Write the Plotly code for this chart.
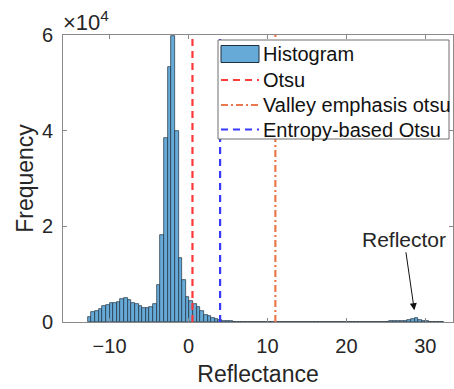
import plotly.graph_objects as go

# ---- data ----
bin_start = -12.77
bin_width = 0.46
counts = [
    980, 2030, 2300, 2800, 3280, 3490, 3900, 3900, 4190, 4890,
    5030, 4600, 3980, 3840, 3280, 3000, 2860, 3070, 3770, 7750,
    18150, 38500, 53300, 59700, 40000, 13470, 8730, 5240, 4330, 3840,
    3140, 2230, 1400, 1190, 910, 560, 350, 200, 150, 120,
    100, 90, 85, 80, 75, 70, 70, 65, 60, 60,
    60, 55, 55, 55, 50, 50, 50, 50, 50, 50,
    50, 50, 50, 50, 50, 50, 50, 50, 50, 50,
    50, 50, 50, 50, 50, 50, 50, 50, 60, 60,
    70, 80, 100, 150, 200, 250, 200, 300, 400, 700,
    750, 500, 250, 120, 70, 50, 40, 30,
]
centers = [bin_start + bin_width * (i + 0.5) for i in range(len(counts))]

otsu = 0.5
valley_otsu = 11.0
entropy_otsu = 4.0

series_names = ["Histogram", "Otsu", "Valley emphasis otsu", "Entropy-based Otsu"]

x_ticks = [-10, 0, 10, 20, 30]
y_ticks = [0, 20000, 40000, 60000]
y_tick_text = ["0", "2", "4", "6"]
y_max = 60000

font = "Liberation Sans, Arial, Helvetica, sans-serif"
txt = "#262626"
axc = "#8a8a8a"
bar_fill = "#66AAD7"
bar_edge = "#1f2f3f"
c_otsu, c_valley, c_entropy = "#FF3838", "#E9784C", "#3838FF"
dash_otsu = "7px,5px"
dash_valley = "7px,3px,2px,3px"

W, H = 454, 389
ML, MR, MT, MB = 63, 1, 35, 67
PW, PH = W - ML - MR, H - MT - MB


def px(xp):
    return (xp - ML) / PW


def py(yp):
    return (H - MB - yp) / PH


fig = go.Figure()
fig.add_trace(go.Bar(
    x=centers, y=counts, width=bin_width, name=series_names[0],
    marker=dict(color=bar_fill, line=dict(color=bar_edge, width=0.7)),
))
fig.add_trace(go.Scatter(x=[otsu, otsu], y=[0, y_max], mode="lines", name=series_names[1],
                         line=dict(color=c_otsu, width=2.2, dash=dash_otsu)))
fig.add_trace(go.Scatter(x=[valley_otsu, valley_otsu], y=[0, y_max], mode="lines",
                         name=series_names[2],
                         line=dict(color=c_valley, width=2.2, dash=dash_valley)))
fig.add_trace(go.Scatter(x=[entropy_otsu, entropy_otsu], y=[0, y_max], mode="lines",
                         name=series_names[3],
                         line=dict(color=c_entropy, width=2.2, dash=dash_otsu)))

# ---- legend (drawn manually to match the MATLAB look) ----
lx0, lx1, ly0, ly1 = 218, 449, 40, 139
sym_x0, sym_x1, text_x = 221, 259, 261
rows_y = [54, 80, 105, 129.5]
fig.add_shape(type="rect", xref="paper", yref="paper", x0=px(lx0), x1=px(lx1),
              y0=py(ly1), y1=py(ly0), fillcolor="white",
              line=dict(color="#6f6f6f", width=1), layer="above")
fig.add_shape(type="rect", xref="paper", yref="paper", x0=px(sym_x0), x1=px(sym_x1),
              y0=py(rows_y[0] + 8.5), y1=py(rows_y[0] - 8.5), fillcolor=bar_fill,
              line=dict(color=bar_edge, width=1), layer="above")
for yy, col, dsh in zip(rows_y[1:], [c_otsu, c_valley, c_entropy],
                        [dash_otsu, dash_valley, dash_otsu]):
    fig.add_shape(type="line", xref="paper", yref="paper", x0=px(sym_x0), x1=px(sym_x1),
                  y0=py(yy), y1=py(yy), line=dict(color=col, width=2.2, dash=dsh),
                  layer="above")
for yy, name in zip(rows_y, series_names):
    fig.add_annotation(x=px(text_x), y=py(yy), xref="paper", yref="paper",
                       xanchor="left", yanchor="middle", text=name, showarrow=False,
                       font=dict(size=20, color="#111111", family=font))

fig.add_annotation(x=28.6, y=2450, ax=27.3, ay=17300, xref="x", yref="y",
                   axref="x", ayref="y", text="Reflector", showarrow=True,
                   arrowhead=2, arrowsize=1.4, arrowwidth=1, arrowcolor="#111111",
                   font=dict(size=21, color=txt, family=font))
fig.add_annotation(x=0, y=1, xref="paper", yref="paper", xanchor="left", yanchor="bottom",
                   text="×10<sup>4</sup>", showarrow=False, xshift=-2, yshift=-2,
                   font=dict(size=22, color=txt, family=font))

fig.update_layout(
    width=W, height=H,
    margin=dict(l=ML, r=MR, t=MT, b=MB),
    paper_bgcolor="white", plot_bgcolor="white",
    font=dict(family=font, size=20, color=txt),
    bargap=0, showlegend=False,
    xaxis=dict(range=[-15.9, 33.5], tickvals=x_ticks, ticks="inside", ticklen=4,
               tickcolor=axc, showline=True, linecolor=axc, linewidth=1, mirror="ticks",
               showgrid=False, zeroline=False, automargin=False,
               title=dict(text="Reflectance", font=dict(size=23, color=txt), standoff=9),
               tickfont=dict(size=20, color=txt), ticklabelstandoff=6),
    yaxis=dict(range=[0, y_max], tickvals=y_ticks, ticktext=y_tick_text, ticks="inside",
               ticklen=4, tickcolor=axc, showline=True, linecolor=axc, linewidth=1,
               mirror="ticks", showgrid=False, zeroline=False, automargin=False,
               title=dict(text="Frequency", font=dict(size=23, color=txt), standoff=1),
               tickfont=dict(size=20, color=txt), ticklabelstandoff=5),
)

fig.write_html(
    "out.html",
    config={"displayModeBar": False},
    post_script="document.body.style.margin='0';document.body.style.overflow='hidden';",
)
